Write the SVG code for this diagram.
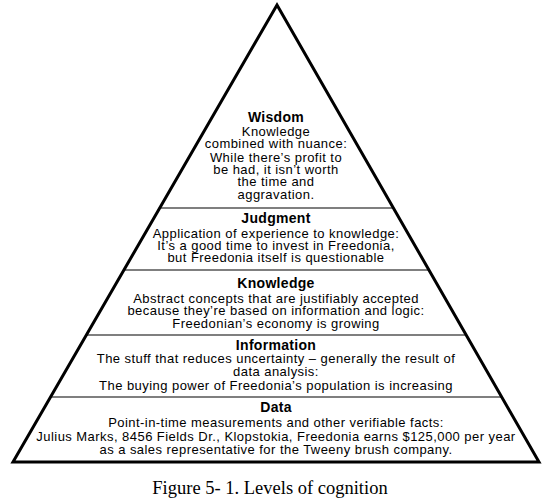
<svg xmlns="http://www.w3.org/2000/svg" width="547" height="504" viewBox="0 0 547 504">
<style>
.t{font-family:"Liberation Sans",Arial,sans-serif;font-size:13px;letter-spacing:0.45px;fill:#000;text-anchor:middle}
.h{font-family:"Liberation Sans",Arial,sans-serif;font-size:14px;letter-spacing:0.3px;font-weight:bold;fill:#000;text-anchor:middle}
.cap{font-family:"Liberation Serif","DejaVu Serif",serif;font-size:18.5px;fill:#000;text-anchor:middle}
.div{stroke:#7f7f7f;stroke-width:2;fill:none}
</style>
<rect width="547" height="504" fill="#fff"/>
<g id="connectors">
<line class="div" x1="159.7" y1="208" x2="393.4" y2="208"/>
<line class="div" x1="123.9" y1="270" x2="428.9" y2="270"/>
<line class="div" x1="86.4" y1="335" x2="466.2" y2="335"/>
<line class="div" x1="50.5" y1="397" x2="501.7" y2="397"/>
</g>
<g id="pyramid">
<polygon points="277,5 539,462 13,462" fill="none" stroke="#000" stroke-width="3" stroke-linejoin="miter"/>
</g>
<g id="wisdom">
<text class="h" x="276" y="122">Wisdom</text>
<text class="t" x="276" y="136">Knowledge</text>
<text class="t" x="276" y="148">combined with nuance:</text>
<text class="t" x="276" y="162">While there’s profit to</text>
<text class="t" x="276" y="174">be had, it isn’t worth</text>
<text class="t" x="276" y="186">the time and</text>
<text class="t" x="276" y="199">aggravation.</text>
</g>
<g id="judgment">
<text class="h" x="276" y="223">Judgment</text>
<text class="t" x="276" y="238">Application of experience to knowledge:</text>
<text class="t" x="276" y="250">It’s a good time to invest in Freedonia,</text>
<text class="t" x="276" y="262">but Freedonia itself is questionable</text>
</g>
<g id="knowledge">
<text class="h" x="276" y="288">Knowledge</text>
<text class="t" x="276" y="303">Abstract concepts that are justifiably accepted</text>
<text class="t" x="276" y="315">because they’re based on information and logic:</text>
<text class="t" x="276" y="328">Freedonian’s economy is growing</text>
</g>
<g id="information">
<text class="h" x="276" y="350">Information</text>
<text class="t" x="276" y="363">The stuff that reduces uncertainty – generally the result of</text>
<text class="t" x="276" y="376">data analysis:</text>
<text class="t" x="276" y="390">The buying power of Freedonia’s population is increasing</text>
</g>
<g id="data">
<text class="h" x="276" y="412">Data</text>
<text class="t" x="276" y="427">Point-in-time measurements and other verifiable facts:</text>
<text class="t" x="276" y="441">Julius Marks, 8456 Fields Dr., Klopstokia, Freedonia earns $125,000 per year</text>
<text class="t" x="276" y="454">as a sales representative for the Tweeny brush company.</text>
</g>
<g id="caption">
<text class="cap" x="270" y="494">Figure 5- 1. Levels of cognition</text>
</g>
</svg>
